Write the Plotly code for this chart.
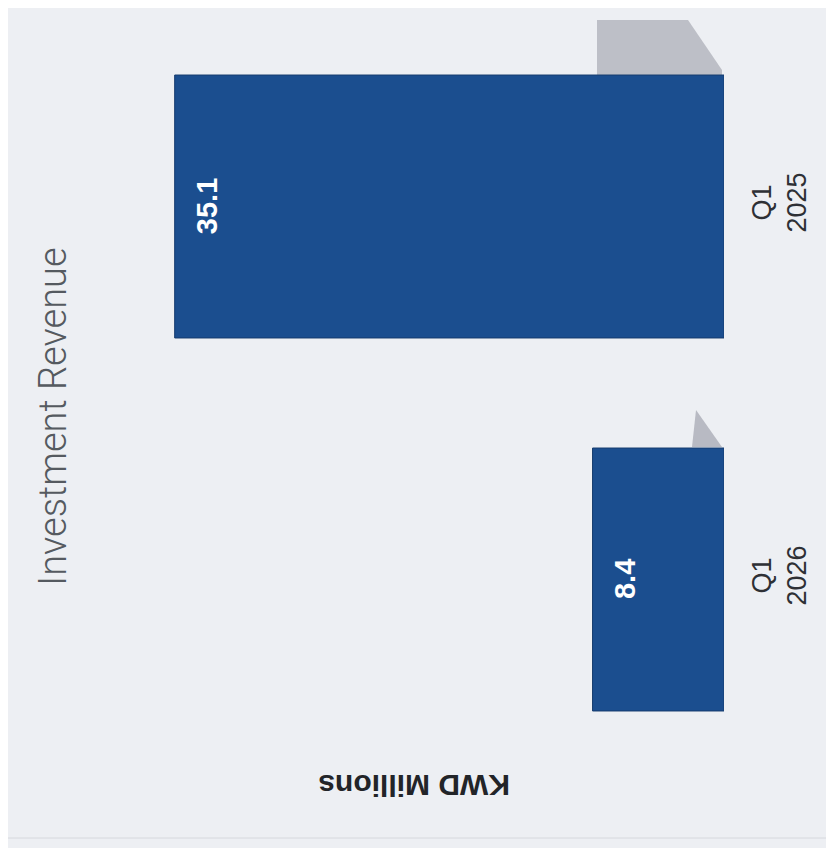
import plotly.graph_objects as go

# ---- data ----
categories = ["Q1<br>2026", "Q1<br>2025"]
values = [8.4, 35.1]
value_labels = ["8.4", "35.1"]
chart_title = "Investment Revenue"
value_axis_title = "KWD Millions"

OFF = 8  # page body offset
W, H = 826, 840
L, T = 90, 12
PW, PH = 626, 746
R, B = W - L - PW, H - T - PH


def px(x):
    return (x - OFF - L) / PW


def py(y):
    return 1 - (y - OFF - T) / PH


fig = go.Figure()
fig.add_trace(go.Bar(
    x=values,
    y=categories,
    orientation="h",
    marker=dict(color="#1b4e8f", line=dict(color="#163c6e", width=1)),
    hoverinfo="skip",
))

annotations = []
for v, c, t in zip(values, categories, value_labels):
    annotations.append(dict(
        x=v, y=c, xref="x", yref="y", text=t, showarrow=False,
        textangle=-90, xanchor="center", yanchor="middle", xshift=32,
        font=dict(family="Liberation Sans", size=29, color="#ffffff", weight="bold"),
    ))

annotations.append(dict(
    x=px(53), y=py(417), xref="paper", yref="paper", text=chart_title,
    showarrow=False, textangle=-90, xanchor="center", yanchor="middle",
    font=dict(family="Roboto", size=38, color="#555a60", weight=300),
))
annotations.append(dict(
    x=px(414), y=py(786), xref="paper", yref="paper", text=value_axis_title,
    showarrow=False, textangle=180, xanchor="center", yanchor="middle",
    font=dict(family="Liberation Sans", size=30, color="#222428", weight="bold"),
))


def poly(pts):
    return "M " + " L ".join(f"{px(x):.4f},{py(y):.4f}" for x, y in pts) + " Z"


shapes = [
    dict(type="path", xref="paper", yref="paper",
         path=poly([(597, 20), (688, 20), (722, 70), (722, 75), (597, 75)]),
         fillcolor="rgba(150,152,162,0.55)", line=dict(width=0), layer="below"),
    dict(type="path", xref="paper", yref="paper",
         path=poly([(696, 410), (722, 447), (692, 447)]),
         fillcolor="rgba(140,142,155,0.55)", line=dict(width=0), layer="below"),
    dict(type="line", xref="paper", yref="paper",
         x0=px(8), x1=px(834), y0=py(838), y1=py(838),
         line=dict(color="#d6d8dd", width=1)),
]

fig.update_layout(
    width=W, height=H,
    margin=dict(l=L, r=R, t=T, b=B, autoexpand=False),
    paper_bgcolor="#edeff3",
    plot_bgcolor="rgba(0,0,0,0)",
    bargap=0.295,
    showlegend=False,
    annotations=annotations,
    shapes=shapes,
    xaxis=dict(range=[40, 0], showgrid=False, zeroline=False,
               showticklabels=False, showline=False, fixedrange=True),
    yaxis=dict(side="right", showgrid=False, zeroline=False, showline=False,
               tickangle=-90, ticks="outside", ticklen=14, tickcolor="rgba(0,0,0,0)",
               tickfont=dict(family="Liberation Sans", size=27, color="#2e3035"),
               categoryorder="array", categoryarray=categories, fixedrange=True),
)

fig.write_html("out.html")
